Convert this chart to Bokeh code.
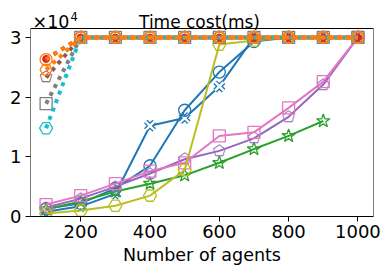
import math
from bokeh.plotting import figure
from bokeh.models import Range1d, FixedTicker, Label, BoxAnnotation
from bokeh.core.properties import value
from bokeh.embed import file_html
from bokeh.resources import INLINE

nan = math.nan
agents = [100, 200, 300, 400, 500, 600, 700, 800, 900, 1000]

# solid series (ms)
blue_x = [800, 1700, 3800, 15200, 16500, 21800, 30000, 30000, 30000, 30000]
blue_o = [1300, 2200, 4700, 8500, 17800, 24200, 29300, 30000, 30000, 30000]
green_star = [1200, 2500, 4200, 5500, 6900, 9000, 11300, 13500, 16000, nan]
purple_pent = [1500, 3000, 5000, 7200, 9600, 11000, 13100, 16700, 22100, 30000]
pink_sq = [2000, 3500, 5500, 7600, 9000, 13500, 14100, 18200, 22600, 30000]
olive_hex = [500, 1000, 1800, 3500, 7800, 28800, 29500, 30000, 30000, 30000]

# dotted series (ms) - time out at 30000
brown_pent = [23300, 30000, 30000, 30000, 30000, 30000, 30000, 30000, 30000, 30000]
red_dot = [26400, 30000, 30000, 30000, 30000, 30000, 30000, 30000, 30000, 30000]
gray_sq = [18900, 30000, 30000, 30000, 30000, 30000, 30000, 30000, 30000, 30000]
cyan_hex = [14800, 30000, 30000, 30000, 30000, 30000, 30000, 30000, 30000, 30000]
orange_hex = [24600, 30000, 30000, 30000, 30000, 30000, 30000, 30000, 30000, 30000]
orange_o = [26300, 30000, 30000, 30000, 30000, 30000, 30000, 30000, 30000, 30000]

y_ticks = [0, 10000, 20000, 30000]
y_tick_labels = ["0", "1", "2", "3"]
x_ticks = [200, 400, 600, 800, 1000]

X_MIN, X_MAX = 55, 1045
Y_MIN, Y_MAX = 0, 31500
FRAME_H = 216          # px: frame starts at canvas top, axes box top 28 px below
BOX_H = 188
Y_VIEW_TOP = Y_MAX * FRAME_H / BOX_H

BLUE = "#1f77b4"; ORANGE = "#ff7f0e"; GREEN = "#2ca02c"; RED = "#d62728"
PURPLE = "#9467bd"; BROWN = "#8c564b"; PINK = "#e377c2"; GRAY = "#7f7f7f"
OLIVE = "#bcbd22"; CYAN = "#17becf"
FONT = "DejaVu Sans"

p = figure(width=391, height=273, output_backend="svg", toolbar_location=None,
           x_range=Range1d(X_MIN, X_MAX), y_range=Range1d(Y_MIN, Y_VIEW_TOP),
           min_border_left=30, min_border_right=18, min_border_top=0, min_border_bottom=57)
p.background_fill_color = "white"
p.border_fill_color = "white"
p.outline_line_color = None
p.xgrid.visible = False
p.ygrid.visible = False

for ax in (p.xaxis[0], p.yaxis[0]):
    ax.major_label_text_font = FONT
    ax.major_label_text_font_size = "18px"
    ax.major_label_text_color = "black"
    ax.axis_label_text_font = FONT
    ax.axis_label_text_font_size = "17.5px"
    ax.axis_label_text_font_style = "normal"
    ax.axis_label_text_color = "black"
    ax.axis_line_color = "black"
    ax.major_tick_line_color = "black"
    ax.major_tick_out = 5
    ax.major_tick_in = 0
    ax.minor_tick_line_color = None

p.yaxis.axis_line_color = None
p.xaxis.ticker = FixedTicker(ticks=x_ticks)
p.yaxis.ticker = FixedTicker(ticks=y_ticks)
p.yaxis.major_label_overrides = {t: l for t, l in zip(y_ticks, y_tick_labels)}
p.xaxis.axis_label = "Number of agents"
p.xaxis.axis_label_standoff = 4
p.xaxis.major_label_standoff = 3
p.yaxis.major_label_standoff = 4

MS = 12

def solid(ys, color):
    p.line(agents, ys, line_color=color, line_width=2)

def hollow(ys, color, marker, size=MS, lw=1.3):
    p.scatter(agents, ys, marker=marker, size=size, fill_color=None,
              line_color=color, line_width=lw)

def pent(ys, color):
    p.text(agents, ys, text=value("\u2b20"), text_align="center", text_baseline="middle",
           text_font=value(FONT), text_font_size="15px", text_color=color)

def dotted(ys, color):
    p.line(agents, ys, line_color=color, line_width=4, line_dash="4 5", line_cap="butt")

# solid lines
solid(blue_x, BLUE)
p.scatter(agents, blue_x, marker="x", size=12, line_color=BLUE, line_width=5)
p.scatter(agents, blue_x, marker="x", size=12, line_color="white", line_width=2.4)
solid(blue_o, BLUE)
hollow(blue_o, BLUE, "circle")
solid(green_star, GREEN)
hollow(green_star, GREEN, "star", size=14)
solid(purple_pent, PURPLE)
pent(purple_pent, PURPLE)
solid(pink_sq, PINK)
hollow(pink_sq, PINK, "square")
solid(olive_hex, OLIVE)
hollow(olive_hex, OLIVE, "hex", size=13)

# dotted lines
dotted(brown_pent, BROWN)
pent(brown_pent, BROWN)
dotted(red_dot, RED)
p.scatter(agents, red_dot, marker="circle", size=7, fill_color=RED, line_color=RED)
dotted(gray_sq, GRAY)
hollow(gray_sq, GRAY, "square")
dotted(cyan_hex, CYAN)
hollow(cyan_hex, CYAN, "hex", size=13)
dotted(orange_hex, ORANGE)
hollow(orange_hex, ORANGE, "hex", size=12)
dotted(orange_o, ORANGE)
hollow(orange_o, ORANGE, "circle")

# axes box (spines)
p.add_layout(BoxAnnotation(left=X_MIN, right=X_MAX, bottom=Y_MIN, top=Y_MAX,
                           fill_alpha=0, fill_color=None, line_color="black",
                           line_width=1, line_alpha=1))

p.add_layout(Label(x=169, y=195, x_units="screen", y_units="screen", text="Time cost(ms)",
                   text_align="center", text_baseline="alphabetic",
                   text_font=FONT, text_font_size="17px", text_color="black"))
p.add_layout(Label(x=2, y=194.5, x_units="screen", y_units="screen", text="\u00d710",
                   text_align="left", text_baseline="alphabetic",
                   text_font=FONT, text_font_size="17.5px", text_color="black"))
p.add_layout(Label(x=40, y=200, x_units="screen", y_units="screen", text="4",
                   text_align="left", text_baseline="alphabetic",
                   text_font=FONT, text_font_size="11.5px", text_color="black"))

open("out.html", "w").write(file_html(p, INLINE))
